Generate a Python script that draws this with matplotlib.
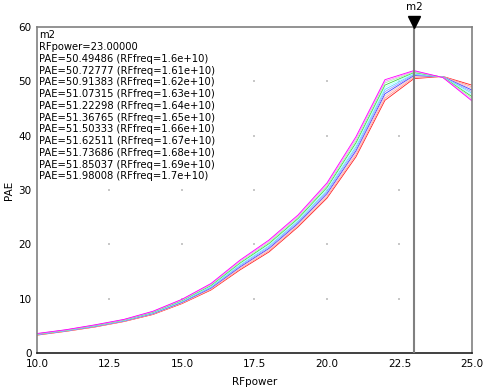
import matplotlib
matplotlib.use('Agg')

import matplotlib.pyplot as plt
import matplotlib.transforms as mtransforms
import numpy as np

# RF power sweep (x) and PAE per frequency
rf_power = [10, 11, 12, 13, 14, 15, 16, 17, 18, 19, 20, 21, 22, 23, 24, 25]
rf_freq = [1.6e10, 1.61e10, 1.62e10, 1.63e10, 1.64e10, 1.65e10,
           1.66e10, 1.67e10, 1.68e10, 1.69e10, 1.7e10]

pae_f160 = [3.30, 4.00, 4.80, 5.80, 7.10, 9.10, 11.60, 15.30, 18.60, 23.20, 28.50, 36.10, 46.5, 50.49486, 50.90, 49.3]
pae_f161 = [3.33, 4.03, 4.84, 5.84, 7.16, 9.18, 11.72, 15.48, 18.82, 23.42, 28.78, 36.47, 46.9, 50.72777, 50.88, 49.0]
pae_f162 = [3.36, 4.06, 4.88, 5.88, 7.22, 9.26, 11.84, 15.66, 19.04, 23.64, 29.06, 36.84, 47.3, 50.91383, 50.86, 48.7]
pae_f163 = [3.39, 4.09, 4.92, 5.92, 7.28, 9.34, 11.96, 15.84, 19.26, 23.86, 29.34, 37.21, 47.7, 51.07315, 50.84, 48.4]
pae_f164 = [3.42, 4.12, 4.96, 5.96, 7.34, 9.42, 12.08, 16.02, 19.48, 24.08, 29.62, 37.58, 48.1, 51.22298, 50.82, 48.1]
pae_f165 = [3.45, 4.15, 5.00, 6.00, 7.40, 9.50, 12.20, 16.20, 19.70, 24.30, 29.90, 37.95, 48.5, 51.36765, 50.80, 47.8]
pae_f166 = [3.48, 4.18, 5.04, 6.04, 7.46, 9.58, 12.32, 16.38, 19.92, 24.52, 30.18, 38.32, 48.9, 51.50333, 50.78, 47.5]
pae_f167 = [3.51, 4.21, 5.08, 6.08, 7.52, 9.66, 12.44, 16.56, 20.14, 24.74, 30.46, 38.69, 49.3, 51.62511, 50.76, 47.2]
pae_f168 = [3.54, 4.24, 5.12, 6.12, 7.58, 9.74, 12.56, 16.74, 20.36, 24.96, 30.74, 39.06, 49.7, 51.73686, 50.74, 46.9]
pae_f169 = [3.57, 4.27, 5.16, 6.16, 7.64, 9.82, 12.68, 16.92, 20.58, 25.18, 31.02, 39.43, 50.0, 51.85037, 50.72, 46.6]
pae_f170 = [3.60, 4.30, 5.20, 6.20, 7.70, 9.90, 12.80, 17.10, 20.80, 25.40, 31.30, 39.80, 50.3, 51.98008, 50.70, 46.4]

pae_series = [pae_f160, pae_f161, pae_f162, pae_f163, pae_f164, pae_f165,
              pae_f166, pae_f167, pae_f168, pae_f169, pae_f170]

x_ticks = [10.0, 12.5, 15.0, 17.5, 20.0, 22.5, 25.0]
y_ticks = [0, 10, 20, 30, 40, 50, 60]
marker_x = 23.0

trace_colors = ['#ff2020', '#ff9898', '#ffc0c0', '#4040ff', '#a0a0ff',
                '#60d8ff', '#b0ffff', '#40d040', '#a0ffa0', '#ff90ff', '#ff00ff']

fig = plt.figure(figsize=(4.87, 3.91), dpi=100)
ax = fig.add_axes([0.076, 0.097, 0.893, 0.834])

# faint grid dots at tick intersections
gx, gy = np.meshgrid(x_ticks[1:-1], y_ticks[1:-1])
ax.scatter(gx.ravel(), gy.ravel(), s=1.2, color='#c8c8c8', marker='s',
           linewidths=0, zorder=1)

for pae, col in zip(pae_series, trace_colors):
    ax.plot(rf_power, pae, color=col, linewidth=0.6, zorder=2)

ax.set_xlim(10, 25)
ax.set_ylim(0, 60)
ax.set_xticks(x_ticks)
ax.set_xticklabels([f'{v:.1f}' for v in x_ticks])
ax.set_yticks(y_ticks)
ax.tick_params(length=0, labelsize=7.5, pad=4)

for side in ['left', 'top', 'right']:
    ax.spines[side].set_color('#808080')
    ax.spines[side].set_linewidth(1.2)
ax.spines['bottom'].set_color('#202020')
ax.spines['bottom'].set_linewidth(1.2)

ax.set_xlabel('RFpower', fontsize=7.5, labelpad=6)
ax.set_ylabel('PAE', fontsize=7.5, labelpad=3)

# marker m2
ax.axvline(marker_x, color='#808080', linewidth=1.5, zorder=3)
trans = mtransforms.blended_transform_factory(ax.transData, ax.transAxes)
ax.plot([marker_x], [1.016], marker='v', color='black', markersize=8,
        transform=trans, clip_on=False, zorder=5)
ax.text(marker_x, 1.06, 'm2', transform=trans, ha='center', va='center',
        fontsize=7.5)

idx = rf_power.index(marker_x)
lines = ['m2', f'RFpower={marker_x:.5f}']
for f, pae in zip(rf_freq, pae_series):
    lines.append(f'PAE={pae[idx]:.5f} (RFfreq={f:.3g})')
ax.text(0.004, 0.99, '\n'.join(lines), transform=ax.transAxes,
        ha='left', va='top', fontsize=7.2, linespacing=1.22, zorder=6)

fig.savefig('out.png', dpi=100, facecolor='white')
